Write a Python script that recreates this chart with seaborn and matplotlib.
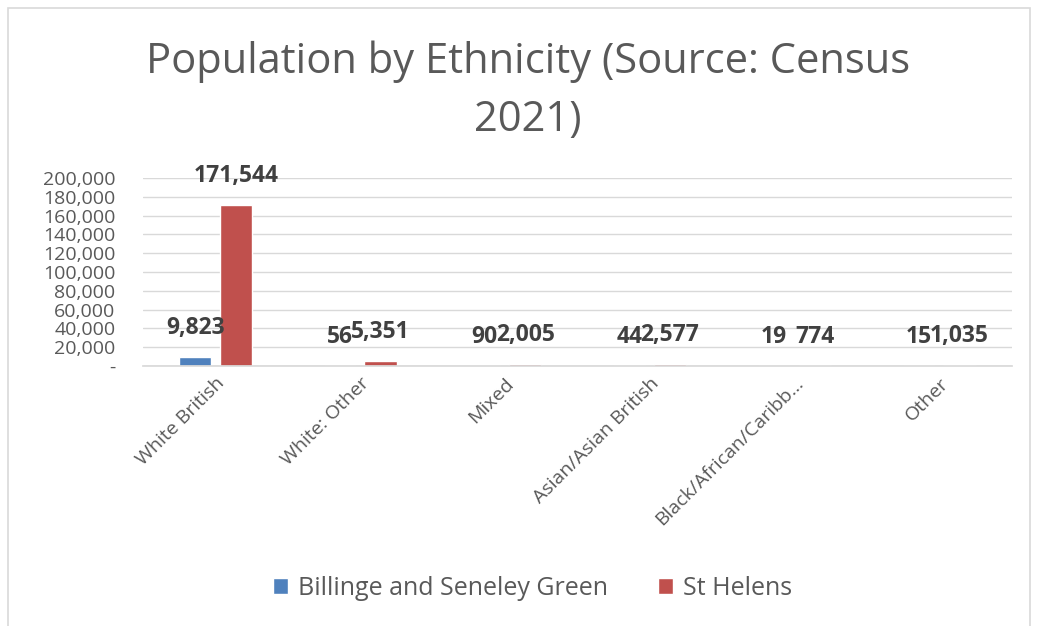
import matplotlib
matplotlib.use("Agg")
import matplotlib.pyplot as plt
import seaborn as sns
import pandas as pd
from matplotlib.ticker import FuncFormatter
from matplotlib.patches import Rectangle

categories = ["White British", "White: Other", "Mixed", "Asian/Asian British",
              "Black/African/Caribb…", "Other"]
billinge = [9823, 56, 90, 44, 19, 15]
st_helens = [171544, 5351, 2005, 2577, 774, 1035]
series_names = ["Billinge and Seneley Green", "St Helens"]
y_ticks = list(range(0, 200001, 20000))

df = pd.DataFrame({
    "Category": categories * 2,
    "Value": billinge + st_helens,
    "Series": [series_names[0]] * len(categories) + [series_names[1]] * len(categories),
})

sns.set_theme(style="white")
plt.rcParams['font.family'] = ['Open Sans', 'DejaVu Sans']

fig = plt.figure(figsize=(10.45, 6.26), dpi=100)
ax = fig.add_axes([0.137, 0.4153, 0.831, 0.3004])

palette = {series_names[0]: "#4F81BD", series_names[1]: "#C0504D"}
sns.barplot(data=df, x="Category", y="Value", hue="Series", palette=palette,
            width=0.56, gap=0.2, ax=ax, saturation=1, legend=True)

ax.set_ylim(0, 200000)
ax.set_yticks(y_ticks)
ax.yaxis.set_major_formatter(FuncFormatter(lambda v, p: "-" if v == 0 else f"{int(v):,}"))
ax.grid(axis="y", color="#d9d9d9", linewidth=1)
ax.set_axisbelow(True)
for s in ["top", "right", "left"]:
    ax.spines[s].set_visible(False)
ax.spines["bottom"].set_color("#d9d9d9")
ax.set_xlabel("")
ax.set_ylabel("")
ax.tick_params(axis="y", labelsize=14, colors="#595959", length=0, pad=20)
ax.tick_params(axis="x", labelsize=14, colors="#595959", length=0, pad=6)
plt.setp(ax.get_xticklabels(), rotation=45, ha="right", rotation_mode="anchor")

for cont in ax.containers:
    ax.bar_label(cont, labels=[f"{v:,.0f}" for v in cont.datavalues], padding=12,
                 fontsize=16.5, fontweight="bold", color="#404040")

leg = ax.legend(loc="center", bbox_to_anchor=(0.51, 0.0605), bbox_transform=fig.transFigure,
                ncol=2, frameon=False, fontsize=18, handlelength=0.6, handleheight=0.6,
                columnspacing=2.0, handletextpad=0.4, labelcolor="#595959")

fig.text(0.505, 0.901, "Population by Ethnicity (Source: Census", ha="center", va="center",
         fontsize=30, color="#595959")
fig.text(0.505, 0.808, "2021)", ha="center", va="center", fontsize=30, color="#595959")

fig.patches.append(Rectangle((8 / 1045, -0.1), (1030 - 8) / 1045, 1.1 - 8 / 626,
                             transform=fig.transFigure, fill=False, edgecolor="#d9d9d9",
                             linewidth=1.2))

fig.savefig("out.png", dpi=100, facecolor="white")
